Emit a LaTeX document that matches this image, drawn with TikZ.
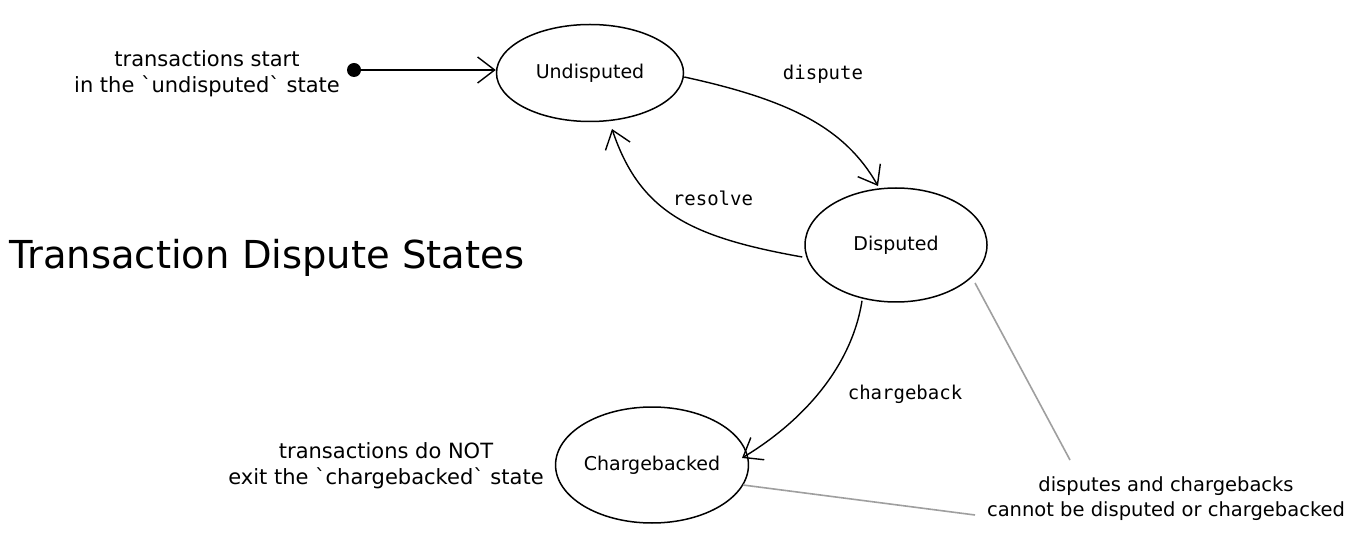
\documentclass[tikz,border=0pt]{standalone}
\usepackage{fontspec}
\newfontfamily\handfont{DejaVu Sans}
\newfontfamily\codefont{DejaVu Sans Mono}
\usetikzlibrary{shapes.geometric,arrows.meta}
\tikzset{
  state/.style={draw, ellipse, line width=1.5pt, inner sep=0pt, font=\handfont\fontsize{19}{23}\selectfont},
  hand/.style={align=center, font=\handfont\fontsize{21}{26}\selectfont},
  smallhand/.style={align=center, font=\handfont\fontsize{19.5}{25}\selectfont},
  code/.style={font=\codefont\fontsize{19}{23}\selectfont},
  trans/.style={line width=1.4pt, -{Straight Barb[length=17pt,width=26pt,line width=1.4pt]}},
  note/.style={draw=gray!75, line width=1.6pt},
}
\begin{document}
\begin{tikzpicture}[x=1pt,y=-1pt]
\useasboundingbox[fill=white] (0,0) rectangle (1354,534);
\node[font=\handfont\fontsize{38.5}{44}\selectfont, anchor=west] (title) at (6,258) {Transaction Dispute States};
\node[hand] (starttxt) at (207,74) {transactions start\\in the `undisputed` state};
\node[circle, fill=black, inner sep=0pt, minimum size=14pt] (dot) at (354,70) {};
\node[state, minimum width=187pt, minimum height=97pt] (und) at (590,73) {Undisputed};
\node[state, minimum width=182pt, minimum height=114pt] (dis) at (896,245) {Disputed};
\node[state, minimum width=188pt, minimum height=116pt] (cb) at (652,465) {Chargebacked};
\node[hand] (endtxt) at (386,466) {transactions do NOT\\exit the `chargebacked` state};
\node[smallhand] (notetxt) at (1166,499) {disputes and chargebacks\\cannot be disputed or chargebacked};
\node[code] (ldispute) at (823,74) {dispute};
\node[code] (lresolve) at (713,198) {resolve};
\node[code] (lcb) at (905,394) {chargeback};
\coordinate (n1) at (975,283);
\coordinate (n2) at (1070,460);
\coordinate (n3) at (743,485);
\coordinate (n4) at (975,515);
\draw[trans] (dot) -- (dot -| und.west);
\draw[trans] (und.east) ++(0,4) .. controls (790,100) and (845,128) .. (878,186);
\draw[trans] (dis.west) ++(-2,12) .. controls (690,237) and (640,212) .. (612,129);
\draw[trans] (dis.south) ++(-34,-2) .. controls (852,365) and (805,420) .. (742,458);
\draw[note] (n1) -- (n2);
\draw[note] (n3) -- (n4);
\end{tikzpicture}
\end{document}
